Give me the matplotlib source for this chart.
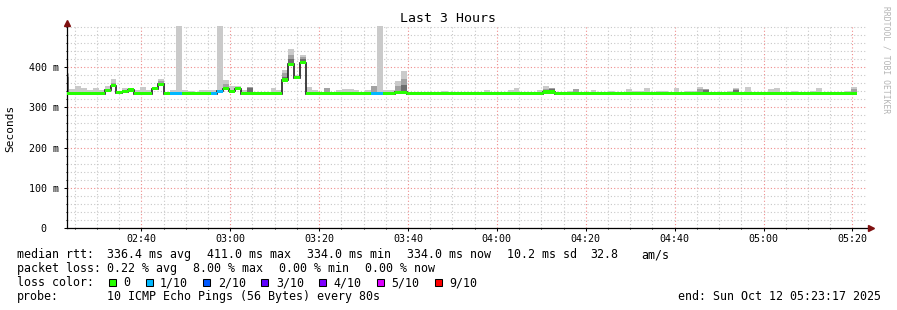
import matplotlib.pyplot as plt
import numpy as np
from matplotlib.patches import Rectangle
from matplotlib.ticker import MultipleLocator, FixedLocator, FuncFormatter

plt.rcParams['font.family'] = ['DejaVu Sans Mono']

# time axis in minutes after midnight (Sun Oct 12 2025)
view_start = 2 * 60 + 23 + 17 / 60     # 02:23:17
view_end = 5 * 60 + 23 + 17 / 60       # 05:23:17
first_sample = 2 * 60 + 22 + 25 / 60   # 02:22:25
step_min = 80 / 60                     # one probe round every 80 s

# median rtt per probe round (ms)
median_ms = [
    334, 334, 334, 334, 334, 334, 334, 342, 354, 336,
    339, 343, 334, 334, 334, 346, 357, 334, 334, 334,
    334, 334, 334, 334, 334, 334, 340, 346, 340, 346,
    334, 334, 334, 334, 334, 334, 334, 368, 407, 374,
    411, 334, 334, 334, 334, 334, 334, 334, 334, 334,
    334, 334, 334, 334, 334, 334, 337, 337, 334, 334,
    334, 334, 334, 334, 334, 334, 334, 334, 334, 334,
    334, 334, 334, 334, 334, 334, 334, 334, 334, 334,
    334, 338, 338, 334, 334, 334, 334, 334, 334, 334,
    334, 334, 334, 334, 334, 334, 334, 334, 334, 334,
    334, 334, 334, 334, 334, 334, 334, 334, 334, 334,
    334, 334, 334, 334, 334, 334, 334, 334, 334, 334,
    334, 334, 334, 334, 334, 334, 334, 334, 334, 334,
    334, 334, 334, 334,
]

# lost pings out of 10 per round
loss_count = [
    0, 0, 0, 0, 0, 0, 0, 0, 0, 0,
    0, 0, 0, 0, 0, 0, 0, 0, 1, 1,
    0, 0, 0, 0, 0, 1, 1, 0, 0, 0,
    0, 0, 0, 0, 0, 0, 0, 0, 0, 0,
    0, 0, 0, 0, 0, 0, 0, 0, 0, 0,
    0, 0, 1, 1, 0, 0, 0, 0, 0, 0,
    0, 0, 0, 0, 0, 0, 0, 0, 0, 0,
    0, 0, 0, 0, 0, 0, 0, 0, 0, 0,
    0, 0, 0, 0, 0, 0, 0, 0, 0, 0,
    0, 0, 0, 0, 0, 0, 0, 0, 0, 0,
    0, 0, 0, 0, 0, 0, 0, 0, 0, 0,
    0, 0, 0, 0, 0, 0, 0, 0, 0, 0,
    0, 0, 0, 0, 0, 0, 0, 0, 0, 0,
    0, 0, 0, 0,
]

# slowest ping per round (ms), outer smoke
smoke_max_ms = [
    385, 346, 352, 348, 342, 348, 342, 353, 371, 340,
    348, 348, 342, 350, 342, 351, 371, 336, 342, 600,
    344, 340, 338, 344, 342, 342, 600, 367, 354, 354,
    344, 350, 336, 336, 338, 349, 342, 393, 445, 381,
    429, 350, 342, 336, 348, 336, 342, 345, 345, 342,
    338, 342, 353, 600, 342, 342, 365, 391, 338, 336,
    336, 336, 336, 336, 341, 336, 336, 336, 336, 336,
    336, 343, 336, 336, 336, 343, 348, 336, 336, 336,
    343, 353, 348, 336, 336, 340, 345, 336, 336, 343,
    336, 336, 340, 336, 336, 345, 340, 340, 348, 336,
    340, 340, 336, 348, 336, 340, 340, 350, 345, 336,
    336, 336, 340, 348, 336, 350, 336, 336, 336, 345,
    348, 336, 336, 340, 336, 336, 340, 348, 336, 336,
    336, 336, 340, 350,
]

# inner smoke layers (ms), 0 where not visible
smoke_mid_ms = [
    383, 0, 0, 0, 0, 0, 0, 0, 360, 0,
    0, 0, 0, 0, 0, 348, 366, 0, 0, 0,
    0, 0, 0, 0, 0, 0, 0, 358, 0, 350,
    0, 350, 0, 0, 0, 0, 0, 385, 429, 378,
    425, 0, 0, 0, 347, 0, 0, 0, 0, 0,
    0, 0, 353, 0, 0, 0, 352, 371, 0, 0,
    0, 0, 0, 0, 0, 0, 0, 0, 0, 0,
    0, 0, 0, 0, 0, 0, 0, 0, 0, 0,
    0, 345, 348, 0, 0, 0, 345, 0, 0, 0,
    0, 0, 0, 0, 0, 0, 0, 0, 0, 0,
    0, 0, 0, 0, 0, 0, 0, 345, 345, 0,
    0, 0, 0, 346, 0, 0, 0, 0, 0, 0,
    0, 0, 0, 0, 0, 0, 0, 0, 0, 0,
    0, 0, 0, 345,
]

smoke_dark_ms = [
    375, 0, 0, 0, 0, 0, 0, 0, 352, 0,
    0, 0, 0, 0, 0, 0, 360, 0, 0, 0,
    0, 0, 0, 0, 0, 0, 0, 350, 0, 0,
    0, 348, 0, 0, 0, 0, 0, 375, 420, 0,
    420, 0, 0, 0, 0, 0, 0, 0, 0, 0,
    0, 0, 0, 0, 0, 0, 0, 355, 0, 0,
    0, 0, 0, 0, 0, 0, 0, 0, 0, 0,
    0, 0, 0, 0, 0, 0, 0, 0, 0, 0,
    0, 0, 346, 0, 0, 0, 0, 0, 0, 0,
    0, 0, 0, 0, 0, 0, 0, 0, 0, 0,
    0, 0, 0, 0, 0, 0, 0, 0, 343, 0,
    0, 0, 0, 344, 0, 0, 0, 0, 0, 0,
    0, 0, 0, 0, 0, 0, 0, 0, 0, 0,
    0, 0, 0, 0,
]

loss_colors = ['#26ff00', '#00b8ff', '#0059ff', '#5e00ff', '#7e00ff', '#dd00ff', '#ff0000']
loss_labels = ['0', '1/10', '2/10', '3/10', '4/10', '5/10', '9/10']
loss_bins = [0, 1, 2, 3, 4, 5, 9]   # lowest loss count for each colour

W, H = 897, 310
fig = plt.figure(figsize=(W / 100, H / 100), dpi=100)
fig.patch.set_facecolor('white')


def fx(x):
    return x / W


def fy(y):
    return 1 - y / H


ax = fig.add_axes([fx(67), fy(228), 800 / W, 202 / H])

n = len(median_ms)
t = first_sample + step_min * np.arange(n)
med = np.array(median_ms, dtype=float)
smax = np.array(smoke_max_ms, dtype=float)
smid = np.maximum(np.array(smoke_mid_ms, dtype=float), med)
sdark = np.maximum(np.array(smoke_dark_ms, dtype=float), med)

# smoke
ax.bar(t, smax - med, bottom=med, width=step_min, align='edge',
       color='#cacaca', linewidth=0, antialiased=False, zorder=2)
ax.bar(t, smid - med, bottom=med, width=step_min, align='edge',
       color='#a2a2a2', linewidth=0, antialiased=False, zorder=2)
ax.bar(t, sdark - med, bottom=med, width=step_min, align='edge',
       color='#6e6e6e', linewidth=0, antialiased=False, zorder=2)

# median line, then loss coloured band over it
edges = np.append(t, t[-1] + step_min)
ax.stairs(med, edges, baseline=None, color='#202020', lw=1.2, zorder=3)
cidx = np.searchsorted(loss_bins, loss_count, side='right') - 1
band = 4.0
ax.bar(t, 2 * band, bottom=med - band, width=step_min, align='edge',
       color=[loss_colors[c] for c in cidx], linewidth=0,
       antialiased=False, zorder=4)

ax.set_xlim(view_start, view_end)
ax.set_ylim(0, 502)

ax.xaxis.set_major_locator(MultipleLocator(20))
ax.xaxis.set_minor_locator(MultipleLocator(5))
ax.yaxis.set_major_locator(FixedLocator([0, 100, 200, 300, 400]))
ax.yaxis.set_minor_locator(MultipleLocator(20))


def fmt_time(v, pos):
    m = int(round(v))
    return f'{m // 60:02d}:{m % 60:02d}'


def fmt_ms(v, pos):
    return '0  ' if v == 0 else f'{v:.0f} m'


ax.xaxis.set_major_formatter(FuncFormatter(fmt_time))
ax.yaxis.set_major_formatter(FuncFormatter(fmt_ms))

ax.set_axisbelow(True)
ax.grid(which='minor', color='#c8c8c8', linestyle=(0, (1, 2)), lw=0.8)
ax.grid(which='major', color='#f08c8c', linestyle=(0, (1, 2)), lw=0.8)

for s in ['top', 'right']:
    ax.spines[s].set_visible(False)
for s in ['left', 'bottom']:
    ax.spines[s].set_color('black')
    ax.spines[s].set_linewidth(0.9)
ax.set_facecolor('white')

ax.tick_params(which='major', length=2, width=0.75, pad=3.6, labelsize=7.2)
ax.tick_params(which='minor', length=1, width=0.75)
ax.tick_params(axis='x', pad=2.5)

# axis arrows
ax.plot([0], [1 + 3 / 202], marker='^', ms=5, color='#7f1010',
        transform=ax.transAxes, clip_on=False, zorder=6)
ax.plot([1 + 4 / 800], [0], marker='>', ms=5, color='#7f1010',
        transform=ax.transAxes, clip_on=False, zorder=6)

fig.text(fx(448), fy(19), 'Last 3 Hours', ha='center', va='center', fontsize=9.5)
fig.text(fx(10.5), fy(128), 'Seconds', ha='center', va='center',
         rotation=90, fontsize=8)
fig.text(fx(886), fy(60), 'RRDTOOL / TOBI OETIKER', ha='center', va='center',
         rotation=270, fontsize=5.8, color='#b4b4b4')

fs = 8.4
line1 = [(16.7, 'median rtt:'), (107.3, '336.4 ms avg'), (207.3, '411.0 ms max'),
         (307.3, '334.0 ms min'), (407.3, '334.0 ms now'), (506.7, '10.2 ms sd'),
         (590.5, '32.8'), (641.7, 'am/s')]
line2 = [(16.7, 'packet loss:'), (107.3, '0.22 % avg'), (193.3, '8.00 % max'),
         (279.3, '0.00 % min'), (365.3, '0.00 % now')]
line4 = [(16.7, 'probe:'), (107.3, '10 ICMP Echo Pings (56 Bytes) every 80s'),
         (678.3, 'end: Sun Oct 12 05:23:17 2025')]
for y, items in [(254.5, line1), (268.5, line2), (296.5, line4)]:
    for x, s in items:
        fig.text(fx(x), fy(y), s, ha='left', va='center', fontsize=fs)

fig.text(fx(16.7), fy(282.5), 'loss color:', ha='left', va='center', fontsize=fs)
sq_x = [108.7, 145.7, 203, 261, 319, 377, 435]
lab_x = [123, 160, 218.3, 276, 333.7, 391.7, 449.7]
for c, lab, sx, lx in zip(loss_colors, loss_labels, sq_x, lab_x):
    fig.add_artist(Rectangle((fx(sx), fy(285.5)), 7 / W, 7 / H,
                             transform=fig.transFigure, facecolor=c,
                             edgecolor='black', lw=0.75))
    fig.text(fx(lx), fy(282.5), lab, ha='left', va='center', fontsize=fs)

fig.savefig('out.png', dpi=100)
